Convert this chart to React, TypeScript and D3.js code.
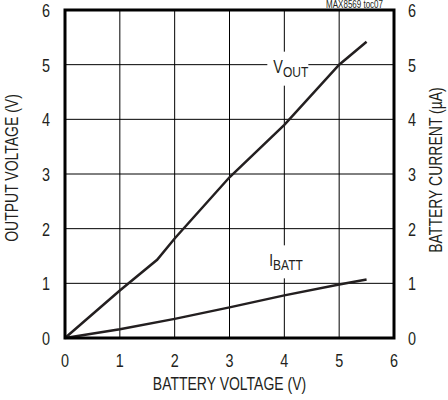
import React, { useEffect, useRef } from 'react';
import * as d3 from 'd3';

const xTicks = [0, 1, 2, 3, 4, 5, 6];
const yTicks = [0, 1, 2, 3, 4, 5, 6];

// output voltage vs battery voltage
const voutX = [0, 1, 1.68, 2, 3, 4, 5, 5.5];
const voutY = [0, 0.87, 1.43, 1.82, 2.94, 3.9, 5.0, 5.42];

// battery current (uA) vs battery voltage
const ibattX = [0, 1, 2, 3, 4, 5, 5.5];
const ibattY = [0, 0.16, 0.35, 0.56, 0.78, 0.98, 1.07];

const FONT = '"Liberation Sans", Arial, sans-serif';
const INK = '#231f20';
const NARROW = 0.8; // fake condensed face

const App: React.FC = () => {
  const ref = useRef<SVGSVGElement>(null);

  useEffect(() => {
    const margin = { top: 10, right: 54, bottom: 62, left: 65 };
    const W = 448;
    const H = 400;
    const width = W - margin.left - margin.right;
    const height = H - margin.top - margin.bottom;

    const root = d3.select(ref.current);
    root.selectAll('*').remove();
    root.attr('width', W).attr('height', H).style('font-family', FONT);

    const svg = root.append('g').attr('transform', `translate(${margin.left},${margin.top})`);

    const x = d3.scaleLinear().domain([0, 6]).range([0, width]);
    const y = d3.scaleLinear().domain([0, 6]).range([height, 0]);
    const yR = d3.scaleLinear().domain([0, 6]).range([height, 0]);

    // condensed text helper
    const label = (
      px: number,
      py: number,
      txt: string,
      size: number,
      anchor: string,
      rot = 0
    ) =>
      svg
        .append('g')
        .attr('transform', `translate(${px},${py}) rotate(${rot}) scale(${NARROW},1)`)
        .append('text')
        .attr('text-anchor', anchor)
        .attr('font-size', size)
        .attr('fill', INK)
        .text(txt);

    // grid
    svg
      .append('g')
      .selectAll('line')
      .data(xTicks.slice(1, -1))
      .enter()
      .append('line')
      .attr('x1', (d) => x(d))
      .attr('x2', (d) => x(d))
      .attr('y1', 0)
      .attr('y2', height)
      .attr('stroke', '#000')
      .attr('stroke-width', 1);

    svg
      .append('g')
      .selectAll('line')
      .data(yTicks.slice(1, -1))
      .enter()
      .append('line')
      .attr('x1', 0)
      .attr('x2', width)
      .attr('y1', (d) => y(d))
      .attr('y2', (d) => y(d))
      .attr('stroke', '#000')
      .attr('stroke-width', 1);

    // label backgrounds (break the grid)
    svg
      .append('rect')
      .attr('x', x(4) - 17)
      .attr('y', y(5) - 13)
      .attr('width', 41)
      .attr('height', 34)
      .attr('fill', '#fff');
    svg
      .append('rect')
      .attr('x', x(4) - 17)
      .attr('y', y(1) - 38)
      .attr('width', 41)
      .attr('height', 33)
      .attr('fill', '#fff');

    // curves
    const line = d3
      .line<[number, number]>()
      .x((d) => x(d[0]))
      .y((d) => y(d[1]));
    const lineR = d3
      .line<[number, number]>()
      .x((d) => x(d[0]))
      .y((d) => yR(d[1]));

    svg
      .append('path')
      .datum(voutX.map((v, i) => [v, voutY[i]] as [number, number]))
      .attr('d', line)
      .attr('fill', 'none')
      .attr('stroke', INK)
      .attr('stroke-width', 2.5);

    svg
      .append('path')
      .datum(ibattX.map((v, i) => [v, ibattY[i]] as [number, number]))
      .attr('d', lineR)
      .attr('fill', 'none')
      .attr('stroke', INK)
      .attr('stroke-width', 2.5);

    // curve labels
    const vl = label(x(4) - 11, y(5) + 8, '', 18, 'start');
    vl.append('tspan').text('V');
    vl.append('tspan').attr('font-size', 15).attr('dy', 4).text('OUT');

    const il = label(x(4) - 15, y(1) - 17, '', 17, 'start');
    il.append('tspan').text('I');
    il.append('tspan').attr('font-size', 15).attr('dy', 4).text('BATT');

    // frame
    svg
      .append('rect')
      .attr('x', 0)
      .attr('y', 0)
      .attr('width', width)
      .attr('height', height)
      .attr('fill', 'none')
      .attr('stroke', '#000')
      .attr('stroke-width', 3);

    // tick labels
    xTicks.forEach((d) => label(x(d), height + 29, String(d), 18, 'middle'));
    yTicks.forEach((d) => label(-15, y(d) + 7, String(d), 18, 'end'));
    yTicks.forEach((d) => label(width + 14, yR(d) + 7, String(d), 18, 'start'));

    // axis titles
    label(width / 2, height + 52, 'BATTERY VOLTAGE (V)', 17.5, 'middle');
    label(-margin.left + 18, height / 2 - 6, 'OUTPUT VOLTAGE (V)', 17.5, 'middle', -90);
    label(width + 48, height / 2 - 4, 'BATTERY CURRENT (\u00b5A)', 17.5, 'middle', -90);

    label(width - 11, -2, 'MAX8569 toc07', 10, 'end');
  }, []);

  return <svg ref={ref} style={{ position: 'absolute', left: 0, top: 0 }} />;
};

export default App;
